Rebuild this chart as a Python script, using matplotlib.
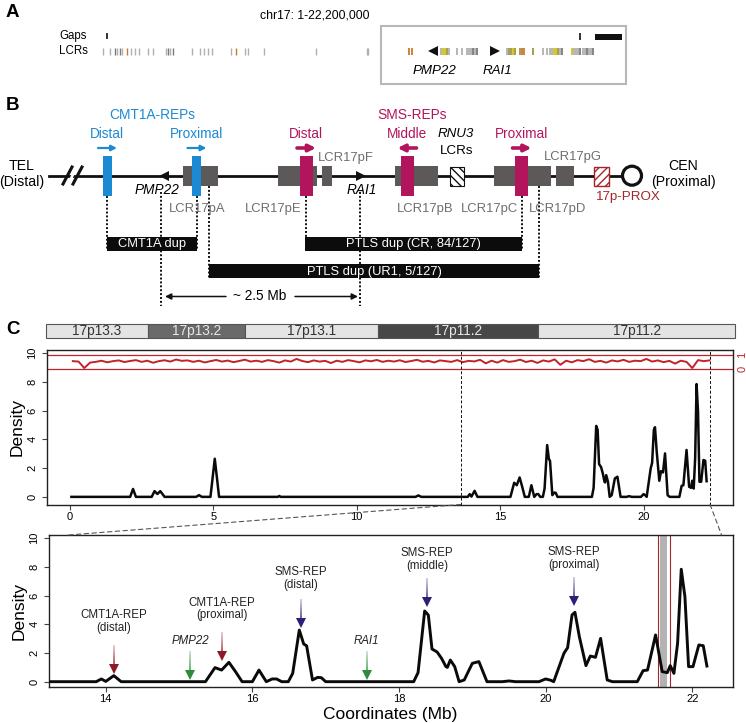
import numpy as np
import matplotlib.pyplot as plt
from matplotlib.patches import Rectangle, Circle, Polygon, ConnectionPatch
from matplotlib.collections import LineCollection
from matplotlib.colors import to_rgba

plt.rcParams['font.family'] = ['Liberation Sans', 'DejaVu Sans']
plt.rcParams['hatch.linewidth'] = 1.0

# ---------------- data ----------------
# density of CNV breakpoints along chr17p (Mb)
density_x = [0.05, 2.1, 2.2, 2.3, 2.85, 2.95, 3.05, 3.15, 3.3, 4.4, 4.5, 4.6,
             4.9, 5.05, 5.2, 7.25, 7.3, 7.35, 12.05, 12.15, 12.25,
             13.57, 13.87, 13.94, 14.0, 14.11, 14.21, 15.36, 15.49, 15.58, 15.68, 15.77,
             15.86, 16.0, 16.09, 16.19, 16.27, 16.33, 16.4, 16.49, 16.55, 16.64,
             16.70, 16.74, 16.82, 16.89, 16.94, 17.0, 18.2, 18.26, 18.35, 18.40,
             18.45, 18.52, 18.58, 18.64, 18.66, 18.70, 18.76, 18.82, 18.89, 19.0,
             19.09, 19.2, 19.41, 19.5, 19.59, 19.91, 20.0, 20.07, 20.11, 20.25,
             20.30, 20.36, 20.40, 20.46, 20.55, 20.61, 20.68, 20.75, 20.84, 20.91,
             21.25, 21.33, 21.39, 21.5, 21.59, 21.66, 21.70, 21.75, 21.80, 21.85,
             21.9, 21.95, 22.01, 22.09, 22.15, 22.20]
density_y = [0, 0, 0.55, 0, 0, 0.4, 0.2, 0.4, 0, 0, 0.12, 0,
             0, 2.65, 0, 0, 0.06, 0, 0, 0.1, 0,
             0, 0, 0.19, 0.02, 0.42, 0, 0, 0.98, 0.81, 1.35, 0.7,
             0, 0, 0.81, 0, 0.19, 0.19, 0, 0, 0.58, 3.6,
             2.63, 2.5, 0.12, 0.3, 0.28, 0, 0, 0.63, 4.93, 4.65,
             2.28, 2.07, 1.63, 1.05, 1.0, 1.51, 1.05, 0, 0.12, 1.28,
             1.4, 0, 0, 0.05, 0, 0, 0.19, 0.1, 0, 1.98,
             2.37, 4.65, 4.84, 3.14, 1.12, 1.79, 1.7, 3.02, 0.12, 0,
             0, 0.77, 0.81, 3.26, 0.7, 0.63, 1.12, 0.58, 2.67, 7.84,
             5.93, 1.05, 1.05, 2.56, 2.51, 1.09]

# second track (0-1 scale), one value every 0.2 Mb from 0.1 Mb
track_start, track_step = 0.1, 0.2
track_v = [0.55, 0.52, 0.08, 0.45, 0.50, 0.58, 0.47, 0.55, 0.60, 0.49, 0.56,
           0.62, 0.50, 0.58, 0.44, 0.55, 0.61, 0.52, 0.66, 0.57, 0.60, 0.50,
           0.58, 0.46, 0.55, 0.63, 0.52, 0.59, 0.48, 0.56, 0.65, 0.52, 0.58,
           0.50, 0.62, 0.55, 0.45, 0.60, 0.52, 0.70, 0.56, 0.48, 0.60, 0.52,
           0.57, 0.42, 0.58, 0.50, 0.62, 0.55, 0.47, 0.60, 0.54, 0.63, 0.50,
           0.58, 0.52, 0.61, 0.49, 0.56, 0.64, 0.51, 0.57, 0.46, 0.60, 0.55,
           0.50, 0.62, 0.48, 0.57, 0.53, 0.64, 0.40, 0.58, 0.45, 0.62, 0.50,
           0.55, 0.65, 0.49, 0.58, 0.43, 0.60, 0.52, 0.67, 0.30, 0.58, 0.47,
           0.62, 0.55, 0.68, 0.50, 0.57, 0.45, 0.60, 0.53, 0.64, 0.50, 0.58,
           0.55, 0.70, 0.52, 0.60, 0.48, 0.57, 0.38, 0.58, 0.50, 0.08, 0.62,
           0.55, 0.60]

top_xticks = [0, 5, 10, 15, 20]
bot_xticks = [14, 16, 18, 20, 22]
yticks = [0, 2, 4, 6, 8, 10]

ann_labels = ['CMT1A-REP\n(distal)', 'PMP22', 'CMT1A-REP\n(proximal)', 'SMS-REP\n(distal)',
              'RAI1', 'SMS-REP\n(middle)', 'SMS-REP\n(proximal)']
ann_x = [14.11, 15.15, 15.58, 16.66, 17.56, 18.38, 20.39]
ann_tip = [0.63, 0.23, 1.51, 3.84, 0.23, 5.28, 5.35]
ann_text_y = [3.35, 2.45, 4.2, 6.3, 2.45, 7.65, 7.7]
ann_kind = ['cmt', 'gene', 'cmt', 'sms', 'gene', 'sms', 'sms']

bands = ['17p13.3', '17p13.2', '17p13.1', '17p11.2', '17p11.2']
band_edges = [46, 147.7, 245, 377.7, 538.3, 735]
band_dark = [False, True, False, True, False]

# panel A tracks (schematic px positions)
lcr_a_x = [103.3, 110, 115, 117.3, 120, 122.3, 126.7, 131, 135, 139.3, 148.3, 153.3,
           165.7, 167.7, 170, 172.7, 191.7, 200, 204, 208.3, 211.7, 231, 236, 245,
           248.3, 264.3, 316, 366.7, 368.3]
lcr_a_c = 'ggdgdgoggggggdgdggggggogggggg'
box_lcr_x = [409, 411.5, 441, 443, 445, 447, 449, 457.3, 461.7, 467, 469, 471, 473,
             475, 477, 507, 509, 511, 513, 515, 520, 522, 524, 533.3, 542.7, 546.7,
             550, 552, 554, 556, 558, 560, 562, 572, 574, 576, 578, 580, 583, 585,
             587, 589, 591, 593]
box_lcr_c = 'oogyyvggggggdgdgvvyvvoovggggyyvgdygggdggdggdg'[:44]

# panel B schematic
lcr_boxes = [('LCR17pA', 183, 218), ('LCR17pE', 278, 317), ('LCR17pF', 322, 332),
             ('LCR17pB', 395, 438), ('LCR17pC', 494, 551), ('LCR17pD', 556, 574)]
lcr_labels = [('LCR17pA', 197, 209), ('LCR17pE', 273, 209), ('LCR17pB', 425, 209),
              ('LCR17pC', 489, 209), ('LCR17pD', 558, 209), ('LCR17pF', 346, 158),
              ('LCR17pG', 573, 157)]
dup_bars = [('CMT1A dup', 107, 197, 237, 251),
            ('PTLS dup (CR, 84/127)', 305, 522, 237, 251),
            ('PTLS dup (UR1, 5/127)', 209, 539, 264, 278)]
dotted = [(107, 196, 250), (197, 196, 250), (161, 192, 306), (209, 186, 278),
          (306, 196, 250), (360, 192, 306), (522, 196, 250), (539, 186, 278)]

BLUE = '#1b8ad3'
MAG = '#b3155d'
LCR_GRAY = '#5e5959'
TXT_GRAY = '#6e6e6e'
DRED = '#a3262b'
TRACK_RED = '#c1232b'
tick_cols = {'g': '#b0b0b0', 'd': '#7a7a7a', 'y': '#d2c01c', 'v': '#9e9640', 'o': '#c97a2a'}

fig = plt.figure(figsize=(7.46, 7.23), dpi=100)

# overlay axes in pixel units for the schematic parts
ax = fig.add_axes([0, 0, 1, 1])
ax.set_xlim(0, 746)
ax.set_ylim(723, 0)
ax.axis('off')
ax.patch.set_alpha(0)

for lab, y in [('A', 12.5), ('B', 106), ('C', 329)]:
    ax.text(6, y, lab, fontsize=13.5, fontweight='bold', va='center', ha='left')

# ---- panel A ----
ax.text(315, 16, 'chr17: 1-22,200,000', fontsize=8.8, ha='center', va='center')
ax.text(59, 36, 'Gaps', fontsize=8.3, va='center')
ax.text(59, 51, 'LCRs', fontsize=8.3, va='center')
ax.vlines(107, 33, 38.5, color='#222', lw=1.3)
ax.vlines(lcr_a_x, 48.3, 54.5, colors=[tick_cols[c] for c in lcr_a_c], lw=1.0)
ax.add_patch(Rectangle((381, 26), 245, 58, fc='none', ec='#b8b8b8', lw=1.5))
ax.vlines(580, 33, 39.5, color='#222', lw=1.3)
ax.add_patch(Rectangle((595, 33.5), 27, 6, fc='#111', ec='none'))
ax.vlines(box_lcr_x, 48.3, 55, colors=[tick_cols[c] for c in box_lcr_c], lw=1.3)
ax.plot(433, 51, marker='<', color='#111', ms=7.5, mew=0)
ax.plot(495, 51, marker='>', color='#111', ms=7.5, mew=0)
ax.text(435, 71, 'PMP22', fontsize=9.6, style='italic', ha='center', va='center')
ax.text(497, 71, 'RAI1', fontsize=9.6, style='italic', ha='center', va='center')

# ---- panel B ----
for x, y0, y1 in dotted:
    ax.plot([x, x], [y0, y1], color='#111', lw=1.4, ls=(0, (1, 1)), zorder=1)
ax.plot([49, 622], [175.5, 175.5], color='#111', lw=2, zorder=2)
ax.add_patch(Polygon([(70, 184), (78, 167), (75, 167), (67, 184)], fc='white', ec='none', zorder=3))
ax.plot([63, 72], [184, 167], color='#111', lw=2.2, zorder=4)
ax.plot([73, 82], [184, 167], color='#111', lw=2.2, zorder=4)
ax.text(22, 166, 'TEL', fontsize=10.2, ha='center', va='center')
ax.text(22, 182, '(Distal)', fontsize=10.2, ha='center', va='center')
ax.text(683, 166, 'CEN', fontsize=10.2, ha='center', va='center')
ax.text(683, 182, '(Proximal)', fontsize=10.2, ha='center', va='center')

for name, x0, x1 in lcr_boxes:
    ax.add_patch(Rectangle((x0, 166), x1 - x0, 20, fc=LCR_GRAY, ec='none', zorder=3))
for name, x, y in lcr_labels:
    ax.text(x, y, name, fontsize=9.4, color=TXT_GRAY, ha='center', va='center', zorder=6)

ax.add_patch(Rectangle((449.5, 167), 14.5, 19, fc='white', ec='#111', hatch='\\\\\\\\', lw=0.8, zorder=3))
ax.add_patch(Rectangle((594, 167), 15, 19, fc='white', ec=DRED, hatch='////', lw=1.0, zorder=3))
ax.add_patch(Circle((632, 175.7), 9.5, fc='white', ec='#111', lw=2.3, zorder=4))
ax.text(628, 197, '17p-PROX', fontsize=9.6, color=DRED, ha='center', va='center')
ax.text(456, 134, 'RNU3', fontsize=9.6, style='italic', ha='center', va='center')
ax.text(457, 151, 'LCRs', fontsize=9.6, ha='center', va='center')

# REP bars with orientation arrows
reps = [(107, BLUE, 'Distal', 1), (196.5, BLUE, 'Proximal', 1), (306, MAG, 'Distal', 1),
        (407.5, MAG, 'Middle', -1), (521.5, MAG, 'Proximal', 1)]
for x, col, lab, d in reps:
    w = 9 if col == BLUE else 13
    ax.add_patch(Rectangle((x - w / 2, 156), w, 40, fc=col, ec='none', zorder=5))
    ax.text(x, 134, lab, fontsize=9.8, color=col, ha='center', va='center')
    lw, ms = (1.6, 8) if col == BLUE else (2.6, 10)
    ax.annotate('', xy=(x + d * 10, 148), xytext=(x - d * 9, 148),
                arrowprops=dict(arrowstyle='-|>', color=col, lw=lw, mutation_scale=ms,
                                shrinkA=0, shrinkB=0))
ax.text(152, 115, 'CMT1A-REPs', fontsize=9.9, color=BLUE, ha='center', va='center')
ax.text(412, 115, 'SMS-REPs', fontsize=9.9, color=MAG, ha='center', va='center')

ax.plot(164, 175.5, marker='<', color='#111', ms=6.5, mew=0, zorder=4)
ax.plot(361, 175.5, marker='>', color='#111', ms=6.5, mew=0, zorder=4)
ax.text(157, 189.5, 'PMP22', fontsize=9.8, style='italic', ha='center', va='center')
ax.text(362, 189.5, 'RAI1', fontsize=9.8, style='italic', ha='center', va='center')

for lab, x0, x1, y0, y1 in dup_bars:
    ax.add_patch(Rectangle((x0, y0), x1 - x0, y1 - y0, fc='#0c0c0c', ec='none', zorder=3))
    ax.text((x0 + x1) / 2, (y0 + y1) / 2 + 0.5, lab, fontsize=9.3, color='white',
            ha='center', va='center', zorder=4)

ax.annotate('', xy=(165, 296.5), xytext=(226, 296.5),
            arrowprops=dict(arrowstyle='-|>', color='#111', lw=1.1, mutation_scale=9, shrinkA=0, shrinkB=0))
ax.annotate('', xy=(358, 296.5), xytext=(295, 296.5),
            arrowprops=dict(arrowstyle='-|>', color='#111', lw=1.1, mutation_scale=9, shrinkA=0, shrinkB=0))
ax.text(260, 296.5, '~ 2.5 Mb', fontsize=9.8, ha='center', va='center')

# ---- panel C: ideogram ----
for i, lab in enumerate(bands):
    x0, x1 = band_edges[i], band_edges[i + 1]
    fc = ('#6a6a6a' if i == 1 else '#474747') if band_dark[i] else '#e4e4e4'
    tc = '#e8e8e8' if band_dark[i] else '#333333'
    ax.add_patch(Rectangle((x0, 323.5), x1 - x0, 14, fc=fc, ec='#555', lw=0.8))
    ax.text((x0 + x1) / 2, 330.5, lab, fontsize=9.8, color=tc, ha='center', va='center')

# ---- top density plot ----
axt = fig.add_axes([47 / 746, 1 - 504.5 / 723, 686 / 746, 155 / 723])
axt.plot(density_x, density_y, color='#0a0a0a', lw=1.8, zorder=3)
axt.set_xlim(-0.80, 23.12)
axt.set_ylim(-0.53, 10.24)
red_lo, red_hi = 8.87, 9.89
axt.axhline(red_lo, color=TRACK_RED, lw=0.9)
axt.axhline(red_hi, color=TRACK_RED, lw=0.9)
track_x = [track_start + i * track_step for i in range(len(track_v))]
axt.plot(track_x, [red_lo + v * (red_hi - red_lo) for v in track_v], color=TRACK_RED, lw=1.4)
axt.axvline(13.63, color='#111', lw=0.7, ls=(0, (3, 2)))
axt.axvline(22.32, color='#111', lw=0.7, ls=(0, (3, 2)))
axt.set_xticks(top_xticks)
axt.set_yticks(yticks)
axt.set_ylabel('Density', fontsize=12.5, labelpad=2)

axr = axt.twinx()
axr.set_ylim((-0.53 - red_lo) / (red_hi - red_lo), (10.24 - red_lo) / (red_hi - red_lo))
axr.set_yticks([0, 1])
axr.tick_params(axis='y', colors=TRACK_RED, length=0, labelsize=8, labelrotation=90, pad=3)
for t in axr.get_yticklabels():
    t.set_va('center')

# ---- bottom zoomed density plot ----
axb = fig.add_axes([49.3 / 746, 1 - 686.7 / 723, 684 / 746, 151.7 / 723])
axb.axvspan(21.56, 21.66, color='#b3b3b3', lw=0, zorder=1)
axb.axvline(21.53, color='#a0282d', lw=0.8, zorder=1)
axb.axvline(21.70, color='#a0282d', lw=0.8, zorder=1)
axb.plot(density_x, density_y, color='#0a0a0a', lw=2.1, zorder=3)
axb.set_xlim(13.23, 22.56)
axb.set_ylim(-0.35, 10.23)
axb.set_xticks(bot_xticks)
axb.set_yticks(yticks)
axb.set_ylabel('Density', fontsize=12.5, labelpad=2)
fig.text(390 / 746, 1 - 714 / 723, 'Coordinates (Mb)', fontsize=12.5, ha='center', va='center')

arrow_cols = {'cmt': '#8c1b24', 'gene': '#2d8c3c', 'sms': '#2b1f78'}
for lab, x, tip, ty, kind in zip(ann_labels, ann_x, ann_tip, ann_text_y, ann_kind):
    col = arrow_cols[kind]
    top = tip + 1.93
    ys = np.linspace(top, tip + 0.35, 13)
    segs = [[(x, ys[i]), (x, ys[i + 1])] for i in range(12)]
    cols = [to_rgba(col, a) for a in np.linspace(0.3, 1.0, 12)]
    axb.add_collection(LineCollection(segs, colors=cols, lw=1.1, zorder=4))
    axb.plot(x, tip + 0.25, marker='v', color=col, ms=6.5, mew=0, zorder=4)
    italic = kind == 'gene'
    axb.text(x, ty, lab, fontsize=8.3, ha='center', va='bottom', color='#222',
             style='italic' if italic else 'normal', linespacing=1.1)

for a in (axt, axb):
    a.tick_params(axis='both', labelsize=8, length=3.5, width=0.8, color='#444')
    a.tick_params(axis='x', pad=2)
    a.tick_params(axis='y', labelrotation=90)
    for t in a.get_yticklabels():
        t.set_va('center')
    for s in a.spines.values():
        s.set_linewidth(1.0)
        s.set_color('#222')
for s in axr.spines.values():
    s.set_visible(False)

# connectors between the two plots
for xa, xb in [(13.63, 13.49), (22.32, 22.40)]:
    con = ConnectionPatch(xyA=(xa, -0.53), coordsA=axt.transData,
                          xyB=(xb, 10.23), coordsB=axb.transData,
                          color='#555', lw=0.8, ls=(0, (4, 3)))
    fig.add_artist(con)

fig.savefig('out.png', dpi=100)
